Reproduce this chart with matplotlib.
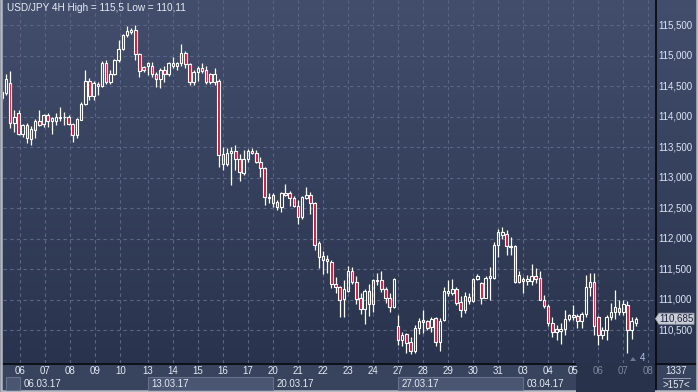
import numpy as np
import matplotlib.pyplot as plt
from matplotlib.patches import Rectangle, Polygon

plt.rcParams['font.family'] = ['Liberation Sans', 'DejaVu Sans']

# USD/JPY 4H candles
opens = [114.40, 114.38, 114.55, 113.90, 114.05, 113.71, 113.86, 113.63, 113.78, 113.92,
         113.87, 114.03, 113.92, 113.93, 113.98, 113.99, 114.00, 113.87, 113.70, 113.95,
         114.20, 114.58, 114.33, 114.54, 114.50, 114.88, 114.57, 114.69, 114.93, 115.10,
         115.34, 115.39, 115.42, 115.02, 114.81, 114.83, 114.83, 114.69, 114.61, 114.77,
         114.69, 114.83, 114.83, 114.87, 115.04, 114.86, 114.57, 114.73, 114.79, 114.76,
         114.69, 114.56, 114.58, 113.38, 113.22, 113.40, 113.44, 113.30, 113.07, 113.30,
         113.44, 113.40, 113.25, 113.16, 112.68, 112.72, 112.60, 112.51, 112.72, 112.74,
         112.67, 112.54, 112.36, 112.67, 112.72, 112.59, 111.93, 111.71, 111.67, 111.62,
         111.25, 111.21, 111.01, 111.14, 111.47, 111.28, 111.03, 110.84, 111.14, 110.92,
         111.30, 111.32, 111.18, 111.02, 110.87, 110.57, 110.33, 110.43, 110.30, 110.16,
         110.54, 110.63, 110.64, 110.55, 110.69, 110.31, 110.66, 111.10, 111.10, 111.17,
         110.96, 110.83, 110.98, 110.98, 111.34, 111.27, 111.03, 111.35, 111.35, 111.90,
         112.06, 112.07, 111.86, 111.88, 111.29, 111.31, 111.31, 111.31, 111.39, 111.35,
         111.00, 110.89, 110.62, 110.47, 110.49, 110.51, 110.68, 110.72, 110.73, 110.64,
         110.77, 111.21, 111.28, 110.71, 110.42, 110.50, 110.71, 110.79, 110.86, 110.80,
         110.91, 110.50, 110.62]
highs = [114.43, 114.70, 114.75, 114.11, 114.10, 113.88, 113.89, 113.84, 113.96, 114.11,
         114.04, 114.05, 114.00, 114.05, 114.15, 114.08, 114.03, 113.89, 113.97, 114.24,
         114.76, 114.63, 114.58, 114.57, 114.91, 114.93, 114.76, 114.95, 115.25, 115.36,
         115.49, 115.45, 115.50, 115.04, 114.83, 114.90, 114.90, 114.73, 114.79, 114.82,
         114.90, 114.97, 114.90, 115.19, 115.08, 114.88, 114.76, 114.82, 114.87, 114.82,
         114.72, 114.79, 114.61, 113.50, 113.48, 113.50, 113.53, 113.38, 113.45, 113.46,
         113.48, 113.45, 113.34, 113.17, 112.75, 112.74, 112.63, 112.76, 112.89, 112.78,
         112.69, 112.63, 112.69, 112.85, 112.77, 112.60, 111.96, 111.80, 111.73, 111.65,
         111.37, 111.22, 111.32, 111.55, 111.53, 111.39, 111.10, 111.17, 111.26, 111.33,
         111.43, 111.47, 111.20, 111.10, 111.35, 110.75, 110.46, 110.45, 110.39, 110.58,
         110.69, 110.82, 110.66, 110.72, 110.72, 110.69, 111.20, 111.32, 111.33, 111.20,
         111.06, 111.13, 111.10, 111.36, 111.41, 111.28, 111.39, 111.53, 111.95, 112.15,
         112.19, 112.14, 112.03, 111.89, 111.46, 111.37, 111.40, 111.58, 111.51, 111.47,
         111.07, 110.92, 110.72, 110.58, 110.61, 110.83, 110.77, 110.91, 110.76, 110.80,
         111.40, 111.43, 111.43, 110.73, 110.55, 110.75, 110.95, 111.15, 111.00, 111.00,
         110.97, 110.71, 110.72]
lows = [114.25, 114.35, 113.81, 113.75, 113.70, 113.67, 113.56, 113.54, 113.64, 113.84,
        113.83, 113.83, 113.72, 113.86, 113.92, 113.86, 113.86, 113.59, 113.64, 113.94,
        114.19, 114.27, 114.27, 114.35, 114.49, 114.54, 114.53, 114.68, 114.90, 115.09,
        115.31, 115.36, 114.93, 114.64, 114.73, 114.68, 114.65, 114.49, 114.46, 114.57,
        114.66, 114.79, 114.76, 114.82, 114.79, 114.51, 114.51, 114.59, 114.71, 114.54,
        114.53, 114.52, 113.18, 113.12, 113.19, 112.88, 113.12, 112.95, 113.04, 113.26,
        113.38, 113.23, 113.01, 112.55, 112.59, 112.52, 112.46, 112.44, 112.69, 112.53,
        112.52, 112.24, 112.32, 112.64, 112.40, 111.81, 111.51, 111.41, 111.44, 111.19,
        111.11, 110.72, 110.72, 111.13, 111.25, 110.93, 110.77, 110.60, 110.73, 110.80,
        111.24, 111.12, 110.95, 110.79, 110.86, 110.25, 110.23, 110.12, 110.11, 110.12,
        110.43, 110.45, 110.50, 110.47, 110.23, 110.15, 110.64, 111.05, 111.07, 110.91,
        110.71, 110.78, 110.93, 110.96, 111.32, 110.93, 111.02, 110.99, 111.33, 111.69,
        112.00, 111.73, 111.73, 111.27, 111.27, 111.11, 111.24, 111.24, 111.27, 110.99,
        110.86, 110.56, 110.39, 110.34, 110.27, 110.42, 110.64, 110.66, 110.53, 110.53,
        110.72, 111.05, 110.42, 110.25, 110.35, 110.34, 110.66, 110.68, 110.75, 110.75,
        110.12, 110.36, 110.57]
closes = [114.30, 114.61, 113.90, 113.99, 113.71, 113.86, 113.64, 113.79, 113.93, 113.86,
          114.03, 113.93, 113.97, 114.00, 114.00, 114.00, 113.87, 113.70, 113.96, 114.20,
          114.58, 114.34, 114.55, 114.50, 114.88, 114.57, 114.69, 114.93, 115.10, 115.34,
          115.40, 115.42, 115.02, 114.75, 114.77, 114.87, 114.69, 114.61, 114.77, 114.69,
          114.88, 114.88, 114.88, 115.04, 114.86, 114.57, 114.73, 114.79, 114.75, 114.57,
          114.56, 114.69, 113.37, 113.22, 113.40, 113.44, 113.30, 113.09, 113.30, 113.44,
          113.40, 113.25, 113.16, 112.68, 112.67, 112.59, 112.51, 112.75, 112.74, 112.67,
          112.54, 112.36, 112.68, 112.72, 112.59, 111.90, 111.70, 111.65, 111.63, 111.25,
          111.21, 111.00, 111.17, 111.47, 111.28, 111.01, 110.84, 111.14, 110.92, 111.32,
          111.32, 111.18, 111.02, 110.87, 111.34, 110.33, 110.42, 110.28, 110.15, 110.54,
          110.65, 110.66, 110.54, 110.68, 110.31, 110.65, 111.14, 111.14, 111.17, 110.94,
          110.83, 111.05, 111.04, 111.34, 111.39, 111.03, 111.36, 111.38, 111.90, 112.11,
          112.10, 111.87, 111.88, 111.29, 111.40, 111.33, 111.33, 111.39, 111.34, 111.00,
          110.89, 110.62, 110.46, 110.52, 110.52, 110.68, 110.74, 110.75, 110.64, 110.77,
          111.21, 111.28, 110.56, 110.42, 110.50, 110.72, 110.80, 110.87, 110.80, 110.92,
          110.50, 110.65, 110.685]

day_labels = ['06', '07', '08', '09', '10', '13', '14', '15', '16', '17', '20', '21', '22',
              '23', '24', '27', '28', '29', '30', '31', '03', '04', '05', '06', '07', '08']
week_labels = ['06.03.17', '13.03.17', '20.03.17', '27.03.17', '03.04.17']
price_ticks = [110.5, 111.0, 111.5, 112.0, 112.5, 113.0, 113.5, 114.0, 114.5, 115.0, 115.5]
last_price = 110.685
title = 'USD/JPY 4H High = 115,5 Low = 110,11'

W, H = 698, 392
fs = 7.0
fig = plt.figure(figsize=(W / 100, H / 100), dpi=100)

# background gradient (pixel coords)
bg = fig.add_axes([0, 0, 1, 1])
bg.set_xlim(0, W)
bg.set_ylim(H, 0)
bg.axis('off')
top_c = np.array([66, 78, 108]) / 255
bot_c = np.array([41, 51, 77]) / 255
t = np.linspace(0, 1, 363)[:, None, None]
grad = top_c * (1 - t) + bot_c * t
bg.imshow(grad, extent=[0, W, 363, 0], aspect='auto', zorder=0)
bg.add_patch(Rectangle((0, 363), W, H - 363, fc='#38435d', ec='none', zorder=1))

# x positions: one slot per 4H bar
xs = np.arange(len(opens))
day_pos = [4.4 + 6 * k for k in range(5)] + [35 + 6 * k for k in range(21)]
week_pos = [day_pos[0], day_pos[5], day_pos[10], day_pos[15], day_pos[20]]
xlim = (0.28, 156.6)
ylim = (109.959, 115.910)

ax = fig.add_axes([3 / W, 29 / H, 652 / W, 363 / H])
ax.set_xlim(*xlim)
ax.set_ylim(*ylim)
ax.patch.set_alpha(0)
ax.axis('off')

grid_c = '#5a6684'
for p in price_ticks:
    ax.axhline(p, color=grid_c, lw=0.8, ls=(0, (3, 3)), zorder=1)
for d in day_pos:
    ax.axvline(d, color=grid_c, lw=0.8, ls=(0, (3, 3)), zorder=1)

red = '#dc1437'
bw = 0.6
for x, o, h, l, c in zip(xs, opens, highs, lows, closes):
    top, bot = max(o, c), min(o, c)
    ax.vlines(x, top, h, color='white', lw=0.9, zorder=2)
    ax.vlines(x, l, bot, color='white', lw=0.9, zorder=2)
    fc = red if c < o else 'none'
    ax.add_patch(Rectangle((x - bw / 2, bot), bw, max(top - bot, 0.004),
                           fc=fc, ec='white', lw=0.8, zorder=3))

ax.text(4 / 652, 1 - 8 / 363, title, transform=ax.transAxes, color='#e8ecf2',
        fontsize=7.2, va='center', ha='left')

# right price axis
rax = fig.add_axes([655 / W, 29 / H, 43 / W, 363 / H])
rax.set_xlim(655, W)
rax.set_ylim(*ylim)
rax.patch.set_alpha(0)
rax.axis('off')
for p in price_ticks:
    rax.text(658, p, f'{p:.3f}'.replace('.', ','), color='#dce6f5', fontsize=fs,
             va='center', ha='left')
tag_h = 5.5 / 61
rax.add_patch(Polygon([(655.5, last_price), (659, last_price + tag_h), (694, last_price + tag_h),
                       (694, last_price - tag_h), (659, last_price - tag_h)],
                      closed=True, fc='#c9ced8', ec='#9aa0ad', lw=0.6, zorder=3))
rax.text(676.5, last_price, f'{last_price:.3f}'.replace('.', ','), color='#1c2236',
         fontsize=fs, va='center', ha='center', zorder=4)

# bottom time axis
bax = fig.add_axes([3 / W, 0, 652 / W, 29 / H])
bax.set_xlim(*xlim)
bax.set_ylim(H, 363)
bax.patch.set_alpha(0)
bax.axis('off')
box_kw = dict(fc='#4a5571', ec='#66718c', lw=0.8)
bax.add_patch(Rectangle((1.0, 377), day_pos[0] - 1.0, 13, **box_kw))
bax.add_patch(Rectangle((week_pos[1], 377), week_pos[2] - week_pos[1], 13, **box_kw))
bax.add_patch(Rectangle((week_pos[3], 377), week_pos[4] - week_pos[3], 13, **box_kw))
bax.add_patch(Rectangle((137.7, 363), xlim[1] - 137.7, 29, fc='#28324b', ec='none'))
for i, (d, lab) in enumerate(zip(day_pos, day_labels)):
    col = '#7d879e' if i >= 23 else '#e4ebf5'
    bax.text(d, 371.5, lab, color=col, fontsize=fs, ha='center', va='center')
for wp, lab in zip(week_pos, week_labels):
    bax.text(wp + 0.8, 384, lab, color='#e4ebf5', fontsize=fs, ha='left', va='center')

# bottom-right corner box
fig.text(676 / W, 1 - 371 / H, '1337', color='#e4ebf5', fontsize=fs, ha='center', va='center')
fig.text(676 / W, 1 - 385 / H, '>157<', color='#e4ebf5', fontsize=fs, ha='center', va='center')
bg.plot([663, 690], [377.5, 377.5], color='#9aa3b8', lw=0.7, zorder=3)

# last-bar marker
bg.add_patch(Polygon([(630, 361), (636, 361), (633, 357)], closed=True, fc='#6e7790', ec='none', zorder=3))
bg.text(642, 358, '4', color='#a9c8f0', fontsize=fs, ha='center', va='center', zorder=3)

# separator lines and frame (left, bottom, right)
bg.plot([0, W], [363.5, 363.5], color='#05070c', lw=1.2, zorder=5)
bg.plot([655.5, 655.5], [0, H], color='#05070c', lw=1.2, zorder=5)
bg.plot([1, 1, W - 1, W - 1], [0, H - 1, H - 1, 0], color='#b6bac3', lw=1.8, zorder=6)

fig.savefig('out.png', dpi=100)
